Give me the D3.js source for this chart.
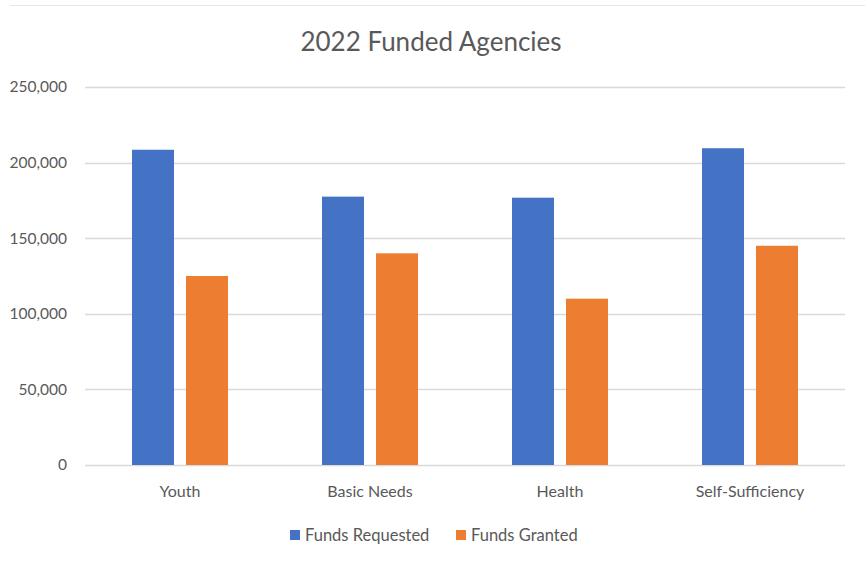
<!DOCTYPE html>
<html>
<head>
<meta charset="utf-8">
<script src="https://cdn.jsdelivr.net/npm/d3@7/dist/d3.min.js"></script>
<style>
  html, body { margin: 0; padding: 0; background: #fff; }
  svg { display: block; font-family: Lato, "Open Sans", sans-serif; }
</style>
</head>
<body>
<div id="chart"></div>
<script>
(function () {
  'use strict';

  var categories = ['Youth', 'Basic Needs', 'Health', 'Self-Sufficiency'];
  var seriesNames = ['Funds Requested', 'Funds Granted'];
  var fundsRequested = [208500, 177500, 176800, 209500];
  var fundsGranted = [125000, 140000, 110000, 145000];
  var yTicks = [0, 50000, 100000, 150000, 200000, 250000];

  var W = 865, H = 566;
  var colors = ['#4472C4', '#ED7D31'];
  var left = 85, right = 845, top = 87, bottom = 465;

  var rows = categories.map(function (c, i) {
    return { cat: c, vals: [fundsRequested[i], fundsGranted[i]] };
  });

  var svg = d3.select('#chart').append('svg')
    .attr('width', W).attr('height', H);

  // faint chart-area border at top
  svg.append('line').attr('x1', 10).attr('x2', W).attr('y1', 5.5).attr('y2', 5.5)
    .attr('stroke', '#e6e6e6').attr('stroke-width', 1);

  var x = d3.scaleBand().domain(categories).range([left, right]);
  var xs = d3.scaleBand().domain(seriesNames).range([0, 96]).paddingInner(0.222);
  var y = d3.scaleLinear().domain([0, 250000]).range([bottom, top]);

  // gridlines
  svg.append('g').selectAll('line').data(yTicks).join('line')
    .attr('x1', left).attr('x2', right)
    .attr('y1', function (d) { return Math.round(y(d)) + 0.5; })
    .attr('y2', function (d) { return Math.round(y(d)) + 0.5; })
    .attr('stroke', '#d9d9d9').attr('stroke-width', 1.3);

  // y axis labels
  var fmt = d3.format(',');
  svg.append('g').selectAll('text').data(yTicks).join('text')
    .attr('x', 67).attr('y', function (d) { return y(d); })
    .attr('dy', '0.35em').attr('text-anchor', 'end')
    .attr('fill', '#595959').attr('font-size', 15.5)
    .text(function (d) { return fmt(d); });

  // bars
  var groups = svg.append('g').selectAll('g').data(rows).join('g')
    .attr('transform', function (d) {
      return 'translate(' + (x(d.cat) + x.bandwidth() / 2 - 48) + ',0)';
    });
  groups.selectAll('rect').data(function (d) {
    return d.vals.map(function (v, i) { return { s: seriesNames[i], v: v, i: i }; });
  }).join('rect')
    .attr('x', function (d) { return xs(d.s); })
    .attr('width', xs.bandwidth())
    .attr('y', function (d) { return y(d.v); })
    .attr('height', function (d) { return bottom - y(d.v); })
    .attr('fill', function (d) { return colors[d.i]; });

  // category labels
  svg.append('g').selectAll('text').data(categories).join('text')
    .attr('x', function (d) { return x(d) + x.bandwidth() / 2; })
    .attr('y', 497).attr('text-anchor', 'middle')
    .attr('fill', '#595959').attr('font-size', 16)
    .text(function (d) { return d; });

  // title
  svg.append('text').attr('x', 431).attr('y', 51).attr('text-anchor', 'middle')
    .attr('fill', '#595959').attr('font-size', 26).text('2022 Funded Agencies');

  // legend
  var legend = svg.append('g');
  var lx = [290, 456];
  seriesNames.forEach(function (s, i) {
    legend.append('rect').attr('x', lx[i]).attr('y', 530).attr('width', 10).attr('height', 10)
      .attr('fill', colors[i]);
    legend.append('text').attr('x', lx[i] + 15).attr('y', 541)
      .attr('fill', '#595959').attr('font-size', 16.5).text(s);
  });
})();
</script>
</body>
</html>
